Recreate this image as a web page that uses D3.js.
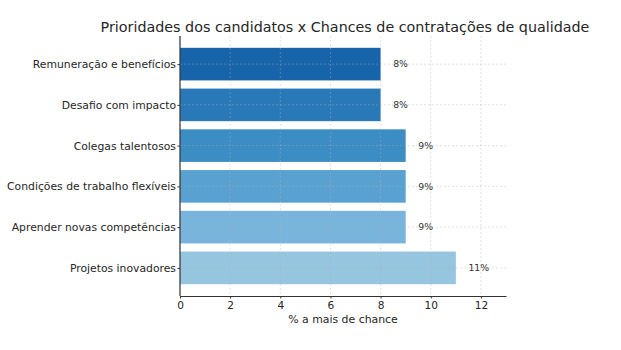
<!DOCTYPE html>
<html><head><meta charset="utf-8">
<script src="https://cdn.jsdelivr.net/npm/d3@7"></script>
<style>body{margin:0;background:#fff}svg{display:block}text{font-family:"DejaVu Sans",sans-serif}</style>
</head><body>
<svg id="c" width="621" height="350"></svg>
<script>
const categories = ["Remuneração e benefícios","Desafio com impacto","Colegas talentosos","Condições de trabalho flexíveis","Aprender novas competências","Projetos inovadores"];
const values = [8, 8, 9, 9, 9, 11];
const barColors = ["#1764ab","#2979b9","#3d8dc5","#59a1d0","#78b4db","#96c5e0"];
const xTicks = [0,2,4,6,8,10,12];
const title = "Prioridades dos candidatos x Chances de contratações de qualidade";
const xLabel = "% a mais de chance";

const svg = d3.select("#c");
const L = 180, R = 506, T = 36, B = 296;
const x = d3.scaleLinear().domain([0, 13]).range([L, R]);
const yPos = d3.scaleLinear().domain([-0.69, 5.69]).range([B, T]);
const n = categories.length;
const pos = i => n - 1 - i;

svg.append("g").selectAll("rect").data(values).join("rect")
  .attr("x", x(0))
  .attr("y", (d,i) => yPos(pos(i) + 0.4))
  .attr("width", d => x(d) - x(0))
  .attr("height", (d,i) => yPos(pos(i) - 0.4) - yPos(pos(i) + 0.4))
  .attr("fill", (d,i) => barColors[i]);

const grid = svg.append("g").attr("stroke", "#b0b0b0").attr("stroke-opacity", 0.5)
  .attr("stroke-width", 0.8).attr("stroke-dasharray", "2,2");
grid.selectAll("line.v").data(xTicks).join("line").attr("class","v")
  .attr("x1", d => x(d)).attr("x2", d => x(d)).attr("y1", T).attr("y2", B);
grid.selectAll("line.h").data(categories).join("line").attr("class","h")
  .attr("x1", L).attr("x2", R)
  .attr("y1", (d,i) => yPos(pos(i))).attr("y2", (d,i) => yPos(pos(i)));

svg.append("g").selectAll("text").data(values).join("text")
  .attr("x", d => x(d + 0.5))
  .attr("y", (d,i) => yPos(pos(i)))
  .attr("dy", "0.35em")
  .attr("font-size", 9.3)
  .attr("fill", "#333")
  .text(d => d + "%");

const xAxis = d3.axisBottom(x).tickValues(xTicks).tickSize(2.5).tickPadding(2.5).tickSizeOuter(0);
const gx = svg.append("g").attr("transform", `translate(0,${B})`).call(xAxis);
gx.select(".domain").attr("stroke", "#333").attr("stroke-width", 1.2);
gx.selectAll(".tick line").attr("stroke", "#333");
gx.selectAll("text").attr("font-size", 10.6).attr("fill", "#262626").attr("font-family", "DejaVu Sans");

const yBand = d3.scaleOrdinal().domain(categories).range(categories.map((c,i) => yPos(pos(i))));
const yAxis = d3.axisLeft(yBand).tickSize(2.5).tickPadding(1.5).tickSizeOuter(0);
const gy = svg.append("g").attr("transform", `translate(${L},0)`).call(yAxis);
gy.select(".domain").attr("d", `M0,${T}V${B}`).attr("stroke", "#333").attr("stroke-width", 1.2);
gy.selectAll(".tick line").attr("stroke", "#333");
gy.selectAll("text").attr("font-size", 10.8).attr("fill", "#262626").attr("font-family", "DejaVu Sans");

svg.append("text").attr("x", 343).attr("y", 323).attr("text-anchor", "middle")
  .attr("font-size", 10.9).attr("fill", "#262626").text(xLabel);
svg.append("text").attr("x", 345).attr("y", 32).attr("text-anchor", "middle")
  .attr("font-size", 14.3).attr("fill", "#262626").text(title);
</script>
</body></html>
